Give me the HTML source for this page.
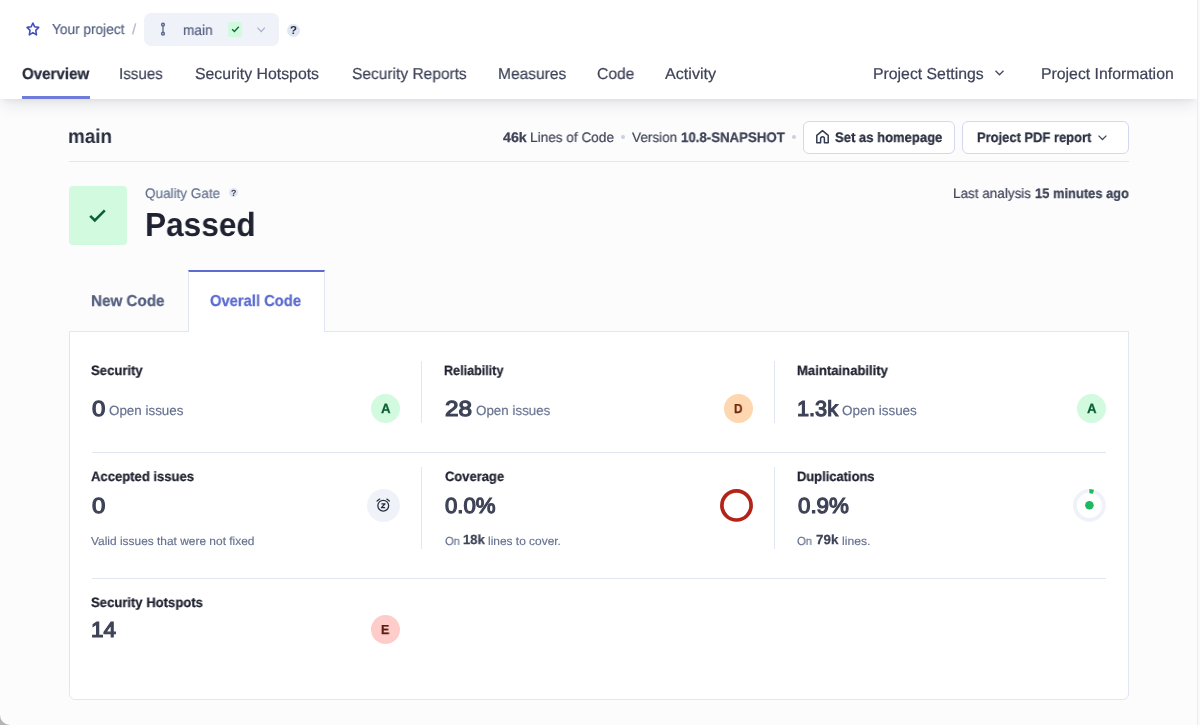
<!DOCTYPE html>
<html lang="en">
<head>
<meta charset="utf-8">
<title>main - Overview</title>
<style>
html,body{margin:0;padding:0;}
body{width:1200px;height:725px;overflow:hidden;background:#b4b4b4;font-family:"Liberation Sans",sans-serif;}
#page{position:absolute;left:0;top:0;width:1200px;height:725px;background:#fcfcfd;border-bottom-left-radius:10px;overflow:hidden;}
.abs{position:absolute;}
.t{position:absolute;white-space:nowrap;text-rendering:geometricPrecision;transform-origin:0 0;will-change:transform;font-family:"Liberation Sans",sans-serif;}
#header{position:absolute;left:0;top:0;width:1197px;height:99px;background:#fff;box-shadow:0 6px 16px -2px rgba(29,33,47,.12),0 2px 6px -2px rgba(29,33,47,.08);}
#sbar{position:absolute;left:1197px;top:0;width:3px;height:725px;background:#fafafa;border-left:1px solid #ececec;box-sizing:border-box;}
#underline{position:absolute;left:22px;top:96px;width:68px;height:3px;background:#6f7cd9;}
#pill{position:absolute;left:144px;top:13px;width:135px;height:33px;border-radius:7px;background:#eff2f9;}
#chk{position:absolute;left:228px;top:22px;width:14px;height:14.5px;border-radius:2px;background:#d1fadf;}
.help{position:absolute;border-radius:50%;background:#e1e6f3;}
.btn{position:absolute;top:120.5px;height:33.2px;box-sizing:border-box;border:1px solid #d3d8ed;border-radius:6px;background:#fff;}
#hr1{position:absolute;left:68.5px;top:161px;width:1060px;height:1px;background:#e1e6f3;}
#qg{position:absolute;left:68.6px;top:186px;width:58.5px;height:59px;border-radius:4px;background:#d1fadf;}
#panel{position:absolute;left:68.5px;top:331px;width:1060px;height:369px;box-sizing:border-box;border:1px solid #e1e6f3;border-radius:0 0 6px 6px;background:#fff;}
#tab{position:absolute;left:187.5px;top:270px;width:137px;height:62px;box-sizing:border-box;border-top:2px solid #5d6cd0;border-left:1px solid #e1e6f3;border-right:1px solid #e1e6f3;background:#fff;}
.vl{position:absolute;width:1px;background:#e1e6f3;}
.hl{position:absolute;left:91.5px;width:1014px;height:1px;background:#e1e6f3;}
.rate{position:absolute;width:29px;height:29px;border-radius:50%;}
.dot{position:absolute;width:3.8px;height:3.8px;border-radius:50%;background:#c9cfe4;}
svg{position:absolute;overflow:visible;}
</style>
</head>
<body>
<div id="page">

<!-- ===== top bar ===== -->
<div id="header"></div>
<div id="sbar"></div>
<div id="underline"></div>

<!-- favourite star -->
<svg style="left:0;top:0" width="60" height="50" viewBox="0 0 60 50"><path d="M32.90 23.00 L34.67 26.79 L38.71 27.35 L35.76 30.34 L36.49 34.86 L32.90 32.68 L29.31 34.86 L30.04 30.34 L27.09 27.35 L31.13 26.79z" fill="none" stroke="#4450be" stroke-width="1.6" stroke-linejoin="round"/></svg>

<!-- branch selector -->
<div id="pill"></div>
<svg style="left:158.3px;top:22px" width="10" height="14" viewBox="0 0 10 14"><circle cx="5" cy="2.65" r="1.35" fill="none" stroke="#5a6890" stroke-width="1.5"/><circle cx="5" cy="11.7" r="1.35" fill="none" stroke="#5a6890" stroke-width="1.5"/><path d="M5 4v6.4" stroke="#5a6890" stroke-width="1.3"/></svg>
<div id="chk"></div>
<svg style="left:230.5px;top:25px" width="9" height="8" viewBox="0 0 9 8"><path d="M1.1 4.3l2.3 2.2L7.8 1.7" fill="none" stroke="#14683b" stroke-width="1.35"/></svg>
<svg style="left:256.8px;top:26.9px" width="8.4" height="5.4" viewBox="0 0 8.4 5.4"><path d="M0.5 0.7l3.7 3.9 3.7-3.9" fill="none" stroke="#a7adc8" stroke-width="1.15"/></svg>
<div class="help" style="left:287px;top:23.9px;width:13px;height:13px"></div>
<span class="t" style="left:290.1px;top:25px;font-size:11.5px;line-height:12px;font-weight:700;color:#2a2f40">?</span>

<!-- project settings chevron -->
<svg style="left:995.2px;top:69.8px" width="9" height="5.5" viewBox="0 0 9 5.5"><path d="M0.5 0.7l4 4 4-4" fill="none" stroke="#484d64" stroke-width="1.4"/></svg>

<!-- ===== title row ===== -->
<div class="dot" style="left:621.3px;top:135.3px"></div>
<div class="dot" style="left:792.1px;top:135.3px"></div>
<div class="btn" style="left:803px;width:152px"></div>
<div class="btn" style="left:962px;width:166.5px"></div>
<svg style="left:0;top:0" width="900" height="160" viewBox="0 0 900 160"><path d="M816.8 135.4L822.5 130.7L828.2 135.4V142.8H824.4V138.7a1.9 1.9 0 0 0-3.8 0V142.8H816.8z" fill="none" stroke="#343a50" stroke-width="1.5" stroke-linejoin="round"/></svg>
<svg style="left:1098px;top:134.8px" width="9" height="5.5" viewBox="0 0 9 5.5"><path d="M0.5 0.6l3.95 3.95 3.95-3.95" fill="none" stroke="#454a60" stroke-width="1.3"/></svg>
<div id="hr1"></div>

<!-- ===== quality gate ===== -->
<div id="qg"></div>
<svg style="left:89px;top:209px" width="17" height="13" viewBox="0 0 17 13"><path d="M1.2 6.8l4.6 4.6L15.8 1.3" fill="none" stroke="#0a6234" stroke-width="2.6"/></svg>
<div class="help" style="left:228.5px;top:188px;width:9.2px;height:9.2px"></div>
<span class="t" style="left:231px;top:189px;font-size:8.8px;line-height:9px;font-weight:700;color:#3a3f52">?</span>

<!-- ===== tabs + panel ===== -->
<div id="panel"></div>
<div id="tab"></div>

<div class="vl" style="left:421px;top:361px;height:62px"></div>
<div class="vl" style="left:774px;top:361px;height:62px"></div>
<div class="vl" style="left:421px;top:467px;height:82px"></div>
<div class="vl" style="left:774px;top:467px;height:82px"></div>
<div class="hl" style="top:452px"></div>
<div class="hl" style="top:578px"></div>

<!-- ratings -->
<div class="rate" style="left:371px;top:394px;background:#d1fadf"></div>
<div class="rate" style="left:724px;top:394px;background:#fed6af"></div>
<div class="rate" style="left:1076.5px;top:394px;background:#d1fadf"></div>
<div class="rate" style="left:371px;top:615.4px;background:#fecdca"></div>

<!-- accepted issues icon -->
<div class="abs" style="left:367.3px;top:489px;width:33px;height:33px;border-radius:50%;background:#eff2f9"></div>
<svg style="left:376.3px;top:498.3px" width="14.5" height="14" viewBox="0 0 14.5 14"><circle cx="7.25" cy="7.7" r="5.4" fill="none" stroke="#2a2f40" stroke-width="1.3"/><path d="M1.1 3.0L3.7 1.1M13.4 3.0L10.8 1.1" stroke="#2a2f40" stroke-width="1.3" fill="none" stroke-linecap="round"/><path d="M5.4 5.8h3.7L5.4 9.6h3.7" fill="none" stroke="#2a2f40" stroke-width="1.35" stroke-linejoin="round"/></svg>

<!-- coverage donut -->
<svg style="left:720px;top:489px" width="33" height="33" viewBox="0 0 33 33"><circle cx="16.5" cy="16.4" r="14.6" fill="none" stroke="#b42318" stroke-width="3.7"/></svg>

<!-- duplications donut -->
<svg style="left:1073px;top:489px" width="33" height="33" viewBox="0 0 33 33"><circle cx="16.4" cy="16.3" r="14.5" fill="none" stroke="#eff2f9" stroke-width="3.8"/><path d="M15.4 0 L21.6 0.9 L20.6 5.3 L15.6 4.6z" fill="#fff"/><path d="M16.2 0 L21 0.7 L20 4.8 L16.4 4.3z" fill="#1cb962"/><circle cx="16.4" cy="16.3" r="4.3" fill="#1cb962"/></svg>

<!-- ===== text ===== -->
<span class="t" style="left:51.63px;top:23px;font-size:14.4px;line-height:15px;font-weight:400;-webkit-text-stroke:0.19px #556080;color:#556080;transform:scaleX(0.9509)">Your project</span>
<span class="t" style="left:131.84px;top:23px;font-size:14.4px;line-height:15px;font-weight:400;-webkit-text-stroke:0.19px #b4b9cc;color:#b4b9cc;transform:scaleX(1.0464)">/</span>
<span class="t" style="left:183.35px;top:24px;font-size:14.4px;line-height:15px;font-weight:400;-webkit-text-stroke:0.19px #556080;color:#556080;transform:scaleX(0.9478)">main</span>
<span class="t" style="left:22.01px;top:67px;font-size:15.8px;line-height:16px;font-weight:700;-webkit-text-stroke:0.25px #2a2f40;color:#2a2f40;transform:scaleX(0.9561)">Overview</span>
<span class="t" style="left:119.18px;top:67px;font-size:15.8px;line-height:16px;font-weight:400;-webkit-text-stroke:0.21px #3e4357;color:#3e4357;transform:scaleX(0.9592)">Issues</span>
<span class="t" style="left:195.11px;top:67px;font-size:15.8px;line-height:16px;font-weight:400;-webkit-text-stroke:0.21px #3e4357;color:#3e4357;transform:scaleX(1.0020)">Security Hotspots</span>
<span class="t" style="left:351.83px;top:67px;font-size:15.8px;line-height:16px;font-weight:400;-webkit-text-stroke:0.21px #3e4357;color:#3e4357;transform:scaleX(0.9829)">Security Reports</span>
<span class="t" style="left:498.07px;top:67px;font-size:15.8px;line-height:16px;font-weight:400;-webkit-text-stroke:0.21px #3e4357;color:#3e4357;transform:scaleX(0.9828)">Measures</span>
<span class="t" style="left:596.64px;top:67px;font-size:15.8px;line-height:16px;font-weight:400;-webkit-text-stroke:0.21px #3e4357;color:#3e4357;transform:scaleX(0.9874)">Code</span>
<span class="t" style="left:664.80px;top:67px;font-size:15.8px;line-height:16px;font-weight:400;-webkit-text-stroke:0.21px #3e4357;color:#3e4357;transform:scaleX(1.0206)">Activity</span>
<span class="t" style="left:872.95px;top:67px;font-size:15.8px;line-height:16px;font-weight:400;-webkit-text-stroke:0.21px #3e4357;color:#3e4357;transform:scaleX(0.9962)">Project Settings</span>
<span class="t" style="left:1040.95px;top:67px;font-size:15.8px;line-height:16px;font-weight:400;-webkit-text-stroke:0.21px #3e4357;color:#3e4357;transform:scaleX(1.0011)">Project Information</span>
<span class="t" style="left:67.95px;top:127px;font-size:19.9px;line-height:20px;font-weight:700;color:#2a2f40;transform:scaleX(0.9475)">main</span>
<span class="t" style="left:502.73px;top:131px;font-size:13.8px;line-height:14px;font-weight:700;-webkit-text-stroke:0.25px #3e4357;color:#3e4357;transform:scaleX(1.0301)">46k</span>
<span class="t" style="left:530.09px;top:131px;font-size:13.8px;line-height:14px;font-weight:400;-webkit-text-stroke:0.18px #3e4357;color:#3e4357;transform:scaleX(0.9866)">Lines of Code</span>
<span class="t" style="left:632.32px;top:131px;font-size:13.8px;line-height:14px;font-weight:400;-webkit-text-stroke:0.18px #3e4357;color:#3e4357;transform:scaleX(0.9829)">Version</span>
<span class="t" style="left:680.87px;top:131px;font-size:13.8px;line-height:14px;font-weight:700;-webkit-text-stroke:0.25px #3e4357;color:#3e4357;transform:scaleX(0.9598)">10.8-SNAPSHOT</span>
<span class="t" style="left:835.49px;top:131px;font-size:13.8px;line-height:14px;font-weight:700;-webkit-text-stroke:0.25px #2a2f40;color:#2a2f40;transform:scaleX(0.9458)">Set as homepage</span>
<span class="t" style="left:976.81px;top:131px;font-size:13.8px;line-height:14px;font-weight:700;-webkit-text-stroke:0.25px #2a2f40;color:#2a2f40;transform:scaleX(0.9380)">Project PDF report</span>
<span class="t" style="left:144.93px;top:187px;font-size:13.8px;line-height:14px;font-weight:400;-webkit-text-stroke:0.18px #65718f;color:#65718f;transform:scaleX(0.9793)">Quality Gate</span>
<span class="t" style="left:144.77px;top:209px;font-size:33.4px;line-height:34px;font-weight:700;color:#1f2230;transform:scaleX(0.9459)">Passed</span>
<span class="t" style="left:953.10px;top:187px;font-size:13.8px;line-height:14px;font-weight:400;-webkit-text-stroke:0.18px #3e4357;color:#3e4357;transform:scaleX(0.9785)">Last analysis</span>
<span class="t" style="left:1034.89px;top:187px;font-size:13.8px;line-height:14px;font-weight:700;-webkit-text-stroke:0.25px #3e4357;color:#3e4357;transform:scaleX(0.9354)">15 minutes ago</span>
<span class="t" style="left:90.85px;top:294px;font-size:15.8px;line-height:16px;font-weight:700;-webkit-text-stroke:0.25px #556080;color:#556080;transform:scaleX(0.9628)">New Code</span>
<span class="t" style="left:210.02px;top:294px;font-size:15.8px;line-height:16px;font-weight:700;-webkit-text-stroke:0.25px #5d6cd0;color:#5d6cd0;transform:scaleX(0.9338)">Overall Code</span>
<span class="t" style="left:91.18px;top:364px;font-size:13.6px;line-height:14px;font-weight:700;-webkit-text-stroke:0.25px #1f2230;color:#1f2230;transform:scaleX(0.9640)">Security</span>
<span class="t" style="left:444.34px;top:364px;font-size:13.6px;line-height:14px;font-weight:700;-webkit-text-stroke:0.25px #1f2230;color:#1f2230;transform:scaleX(0.9254)">Reliability</span>
<span class="t" style="left:796.82px;top:364px;font-size:13.6px;line-height:14px;font-weight:700;-webkit-text-stroke:0.25px #1f2230;color:#1f2230;transform:scaleX(0.9633)">Maintainability</span>
<span class="t" style="left:91.92px;top:398px;font-size:21.7px;line-height:22px;font-weight:400;-webkit-text-stroke:1.19px #3e4357;color:#3e4357;transform:scaleX(1.1083)">0</span>
<span class="t" style="left:109.43px;top:404px;font-size:13.4px;line-height:14px;font-weight:400;-webkit-text-stroke:0.17px #65718f;color:#65718f;transform:scaleX(1.0000)">Open issues</span>
<span class="t" style="left:444.68px;top:398px;font-size:21.7px;line-height:22px;font-weight:400;-webkit-text-stroke:1.19px #3e4357;color:#3e4357;transform:scaleX(1.1230)">28</span>
<span class="t" style="left:475.63px;top:404px;font-size:13.4px;line-height:14px;font-weight:400;-webkit-text-stroke:0.17px #65718f;color:#65718f;transform:scaleX(0.9972)">Open issues</span>
<span class="t" style="left:796.75px;top:398px;font-size:21.7px;line-height:22px;font-weight:400;-webkit-text-stroke:1.19px #3e4357;color:#3e4357;transform:scaleX(0.9980)">1.3k</span>
<span class="t" style="left:842.42px;top:404px;font-size:13.4px;line-height:14px;font-weight:400;-webkit-text-stroke:0.17px #65718f;color:#65718f;transform:scaleX(1.0054)">Open issues</span>
<span class="t" style="left:91.29px;top:470px;font-size:13.6px;line-height:14px;font-weight:700;-webkit-text-stroke:0.25px #1f2230;color:#1f2230;transform:scaleX(0.9604)">Accepted issues</span>
<span class="t" style="left:444.55px;top:470px;font-size:13.6px;line-height:14px;font-weight:700;-webkit-text-stroke:0.25px #1f2230;color:#1f2230;transform:scaleX(0.9535)">Coverage</span>
<span class="t" style="left:796.83px;top:470px;font-size:13.6px;line-height:14px;font-weight:700;-webkit-text-stroke:0.25px #1f2230;color:#1f2230;transform:scaleX(0.9501)">Duplications</span>
<span class="t" style="left:91.92px;top:495px;font-size:21.7px;line-height:22px;font-weight:400;-webkit-text-stroke:1.19px #3e4357;color:#3e4357;transform:scaleX(1.1083)">0</span>
<span class="t" style="left:444.74px;top:495px;font-size:21.7px;line-height:22px;font-weight:400;-webkit-text-stroke:1.19px #3e4357;color:#3e4357;transform:scaleX(1.0240)">0.0%</span>
<span class="t" style="left:797.54px;top:495px;font-size:21.7px;line-height:22px;font-weight:400;-webkit-text-stroke:1.19px #3e4357;color:#3e4357;transform:scaleX(1.0290)">0.9%</span>
<span class="t" style="left:91.47px;top:536px;font-size:11.7px;line-height:12px;font-weight:400;-webkit-text-stroke:0.15px #65718f;color:#65718f;transform:scaleX(1.0199)">Valid issues that were not fixed</span>
<span class="t" style="left:444.51px;top:536px;font-size:11.7px;line-height:12px;font-weight:400;-webkit-text-stroke:0.15px #65718f;color:#65718f;transform:scaleX(0.9616)">On</span>
<span class="t" style="left:462.69px;top:533px;font-size:13.2px;line-height:14px;font-weight:700;-webkit-text-stroke:0.25px #3e4357;color:#3e4357;transform:scaleX(0.9860)">18k</span>
<span class="t" style="left:488.02px;top:536px;font-size:11.7px;line-height:12px;font-weight:400;-webkit-text-stroke:0.15px #65718f;color:#65718f;transform:scaleX(1.0207)">lines to cover.</span>
<span class="t" style="left:797.00px;top:536px;font-size:11.7px;line-height:12px;font-weight:400;-webkit-text-stroke:0.15px #65718f;color:#65718f;transform:scaleX(0.9686)">On</span>
<span class="t" style="left:815.87px;top:533px;font-size:13.2px;line-height:14px;font-weight:700;-webkit-text-stroke:0.25px #3e4357;color:#3e4357;transform:scaleX(1.0146)">79k</span>
<span class="t" style="left:841.81px;top:536px;font-size:11.7px;line-height:12px;font-weight:400;-webkit-text-stroke:0.15px #65718f;color:#65718f;transform:scaleX(1.0412)">lines.</span>
<span class="t" style="left:91.18px;top:596px;font-size:13.6px;line-height:14px;font-weight:700;-webkit-text-stroke:0.25px #1f2230;color:#1f2230;transform:scaleX(0.9618)">Security Hotspots</span>
<span class="t" style="left:90.91px;top:619px;font-size:21.7px;line-height:22px;font-weight:400;-webkit-text-stroke:1.19px #3e4357;color:#3e4357;transform:scaleX(1.0349)">14</span>
<span class="t" style="left:380.99px;top:402px;font-size:13.4px;line-height:14px;font-weight:700;-webkit-text-stroke:0.25px #0a5e32;color:#0a5e32;transform:scaleX(0.9851)">A</span>
<span class="t" style="left:734.31px;top:402px;font-size:13.0px;line-height:13px;font-weight:700;-webkit-text-stroke:0.25px #6e2a0e;color:#6e2a0e;transform:scaleX(0.9046)">D</span>
<span class="t" style="left:1086.59px;top:402px;font-size:13.4px;line-height:14px;font-weight:700;-webkit-text-stroke:0.25px #0a5e32;color:#0a5e32;transform:scaleX(0.9851)">A</span>
<span class="t" style="left:381.27px;top:623px;font-size:13.0px;line-height:13px;font-weight:700;-webkit-text-stroke:0.25px #5d1d13;color:#5d1d13;transform:scaleX(0.9593)">E</span>

</div>
</body>
</html>
